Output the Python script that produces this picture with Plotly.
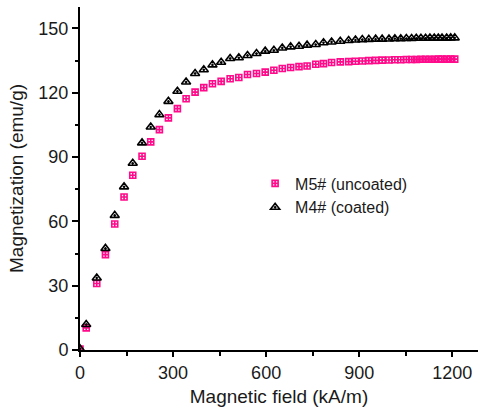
import plotly.graph_objects as go

# Data
field_kAm = [0, 20, 54, 82, 112, 142, 170, 200, 228, 256, 285, 314, 342, 371, 399,
             427, 455, 484, 512, 540, 569, 597, 625, 652, 679, 706, 732, 760, 785,
             811, 839, 866, 888, 910, 931, 953, 974, 996, 1015, 1034, 1052, 1069,
             1084, 1099, 1114, 1128, 1142, 1155, 1167, 1182, 1195, 1208]

m5_uncoated = [0.5, 10.3, 31.0, 44.5, 58.8, 71.4, 81.5, 90.4, 97.1, 102.8,
               108.3, 112.6, 117.2, 120.3, 122.4, 124.2, 125.3, 126.5, 127.1, 128.5,
               129.0, 129.6, 130.5, 131.3, 131.8, 132.2, 132.5, 133.3, 133.6, 134.1,
               134.4, 134.5, 134.7, 134.8, 135.0, 135.1, 135.2, 135.3, 135.4, 135.4,
               135.5, 135.5, 135.5, 135.6, 135.6, 135.6, 135.6, 135.7, 135.7, 135.7,
               135.7, 135.7]

m4_coated = [0.5, 11.9, 33.6, 47.4, 62.8, 76.1, 87.1, 96.6, 104.0, 109.8,
             116.0, 120.7, 125.0, 129.0, 130.7, 133.0, 134.2, 136.0, 136.3, 137.4,
             138.3, 139.4, 139.8, 140.9, 141.4, 141.7, 142.2, 142.5, 143.3, 143.7,
             144.0, 144.4, 144.6, 144.8, 144.9, 145.0, 145.0, 145.1, 145.2, 145.2,
             145.3, 145.3, 145.4, 145.4, 145.4, 145.5, 145.5, 145.5, 145.5, 145.5,
             145.6, 145.6]

series_names = ["M5# (uncoated)", "M4# (coated)"]
x_ticks = [0, 300, 600, 900, 1200]
y_ticks = [0, 30, 60, 90, 120, 150]

PINK = "#FF0A8A"
FONT = "Liberation Sans, Arial, sans-serif"
TXT = "#1a1a1a"

fig = go.Figure()
fig.add_trace(go.Scatter(
    x=field_kAm, y=m5_uncoated, name=series_names[0], mode="markers",
    marker=dict(symbol="square-cross-open", size=6, color=PINK,
                line=dict(color=PINK, width=1.6)),
))
fig.add_trace(go.Scatter(
    x=field_kAm, y=m4_coated, name=series_names[1], mode="markers",
    marker=dict(symbol="triangle-up-open-dot", size=8, color="black",
                line=dict(color="black", width=1.6)),
))

axis_common = dict(
    showline=True, linecolor="black", linewidth=2, mirror=False,
    ticks="outside", tickcolor="black", tickwidth=1.5,
    showgrid=False, zeroline=False,
    tickfont=dict(family=FONT, size=18, color=TXT),
)

fig.update_xaxes(
    range=[0, 1283], tickvals=x_ticks, ticklen=5,
    minor=dict(dtick=150, tick0=0, ticks="outside", ticklen=4,
               tickcolor="black", tickwidth=1.5, showgrid=False),
    title=dict(text="Magnetic field (kA/m)", standoff=8,
               font=dict(family=FONT, size=19, color=TXT)),
    **axis_common,
)
fig.update_yaxes(
    range=[0, 160], tickvals=y_ticks, ticklen=6,
    minor=dict(dtick=15, tick0=0, ticks="outside", ticklen=3,
               tickcolor="black", tickwidth=1.5, showgrid=False),
    title=dict(text="Magnetization (emu/g)", standoff=10,
               font=dict(family=FONT, size=19, color=TXT)),
    **axis_common,
)

fig.update_layout(
    width=478, height=412,
    margin=dict(l=80, r=0, t=7, b=62, pad=0),
    plot_bgcolor="white", paper_bgcolor="white",
    showlegend=True,
    legend=dict(x=0.44, y=0.535, xanchor="left", yanchor="top",
                bgcolor="rgba(0,0,0,0)", borderwidth=0,
                font=dict(family=FONT, size=16, color=TXT),
                itemwidth=30, tracegroupgap=0),
)

fig.write_html("out.html",
               config={"displayModeBar": False},
               post_script="document.body.style.margin='0';document.body.style.overflow='hidden';")
